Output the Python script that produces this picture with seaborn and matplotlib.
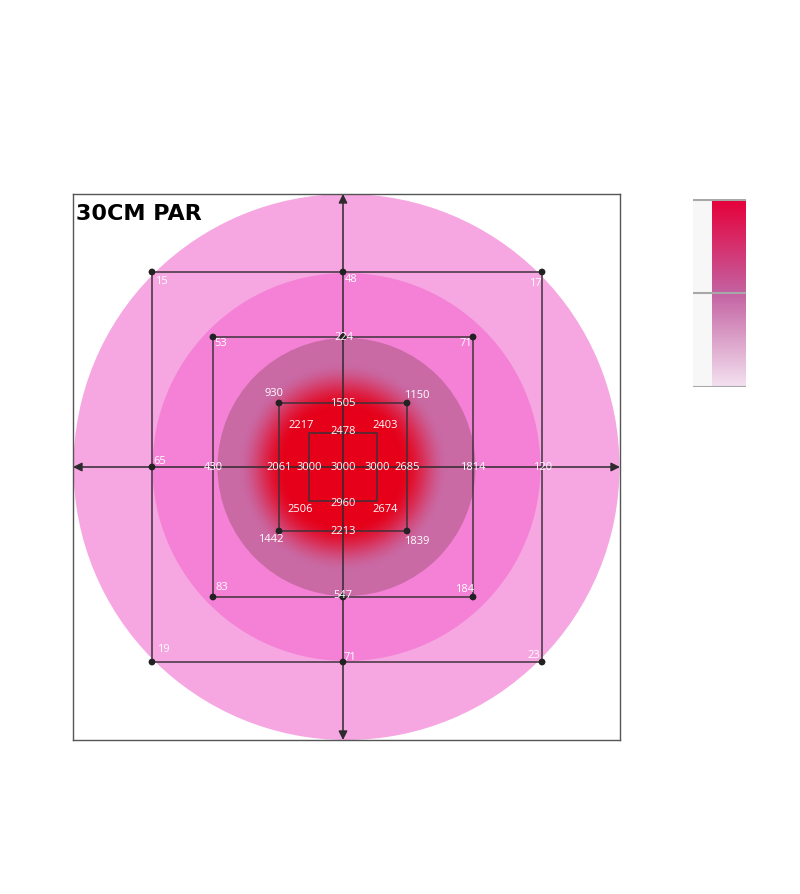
import numpy as np
import pandas as pd
import matplotlib
matplotlib.use("Agg")
import matplotlib.pyplot as plt
import seaborn as sns
from matplotlib.patches import Circle, Rectangle
from matplotlib.colors import LinearSegmentedColormap

# PAR readings at 30cm, one list per square ring
# order: top-left, top, top-right, right, bottom-right, bottom, bottom-left, left
outer_ring = [15, 48, 17, 120, 23, 71, 19, 65]
middle_ring = [53, 224, 71, 1814, 184, 547, 83, 430]
inner_ring = [930, 1505, 1150, 2685, 1839, 2213, 1442, 2061]
core_ring = [2217, 2478, 2403, 3000, 2674, 2960, 2506, 3000]
center_value = 3000
title = "30CM PAR"

sns.set_style("white")
plt.rcParams['font.family'] = ['Open Sans', 'DejaVu Sans']

# ring geometry (pixels from centre: x shift, half size) and label nudges (dx, dy up)
directions = [(-1, 1), (0, 1), (1, 1), (1, 0), (1, -1), (0, -1), (-1, -1), (-1, 0)]
rings = [
    (outer_ring, 4, 195, [(9, -9), (8, -8), (-7, -11), (1, 0), (-8, 6), (7, 5), (11, 12), (8, 6)],
     [0, 1, 2, 4, 5, 6, 7]),
    (middle_ring, 0, 130, [(8, -6), (1, -1), (-7, -6), (0, 0), (-8, 8), (0, 2), (9, 9), (0, 0)],
     [0, 1, 2, 4, 5, 6]),
    (inner_ring, 0, 64, [(-5, 9), (0, 0), (10, 8), (0, 0), (10, -10), (0, -1), (-8, -9), (0, 0)],
     [0, 2, 4, 6]),
    (core_ring, 0, 34, [(-8, 7), (0, 1), (8, 7), (0, 0), (8, -8), (0, -2), (-9, -9), (0, 0)],
     []),
]

fig = plt.figure(figsize=(8, 8.94), dpi=100)
ax = fig.add_axes([73 / 800, 1 - 740 / 894, 547 / 800, 546 / 894])

# coloured zones
for r, c in [(273, '#f6a6e1'), (194, '#f581d6'), (129, '#c96aa5')]:
    ax.add_patch(Circle((3.5, 0), r, color=c, lw=0, zorder=1))

# red hot spot, radial fade
g = np.linspace(-120, 120, 241)
xx, yy = np.meshgrid(g, g)
rr = np.hypot(xx, yy)
t = np.clip((rr - 58) / 48, 0, 1)
alpha = 1 - (t * t * (3 - 2 * t))
img = np.zeros((241, 241, 4))
img[..., 0] = 230 / 255
img[..., 1] = 0
img[..., 2] = 25 / 255
img[..., 3] = alpha
ax.imshow(img, extent=(-120, 120, -120, 120), origin='lower', zorder=2, interpolation='bilinear')
ax.set_xlim(-270, 277)
ax.set_ylim(-273, 273)
ax.set_aspect('auto')

# squares
lc = '#3b3038'
for _, sx, h, _, _ in rings:
    ax.add_patch(Rectangle((sx - h, -h), 2 * h, 2 * h, fill=False, ec=lc, lw=1.2, alpha=0.9, zorder=3))

# cross axes with arrow heads
for end in [(-270, 0), (277, 0), (0, 273), (0, -273)]:
    ax.annotate('', xy=end, xytext=(0, 0),
                arrowprops=dict(arrowstyle='-|>', color='#2e2a2d', lw=1.1,
                                mutation_scale=13, shrinkA=0, shrinkB=0), zorder=4)

# dots and labels
dots = []
for vals, sx, h, offs, dot_idx in rings:
    for i, (v, (dx, dy), (ox, oy)) in enumerate(zip(vals, directions, offs)):
        px, py = dx * h + (sx if dx else 0), dy * h
        if i in dot_idx:
            dots.append((px, py))
        ax.text(px + ox, py + oy, str(v), ha='center', va='center', color='white',
                fontsize=8, zorder=6)
ax.text(0, 0, str(center_value), ha='center', va='center', color='white', fontsize=8, zorder=6)

dots_df = pd.DataFrame(dots, columns=['x', 'y'])
sns.scatterplot(data=dots_df, x='x', y='y', color='#222222', s=24, edgecolor='none',
                ax=ax, zorder=5, legend=False)

ax.text(-267, 263, title, ha='left', va='top', fontsize=16, fontweight='bold',
        family=['DejaVu Sans'], color='black', zorder=7)

ax.set_xlabel('')
ax.set_ylabel('')
ax.set_xticks([])
ax.set_yticks([])
for s in ax.spines.values():
    s.set_color('#555555')
    s.set_linewidth(1)
    s.set_visible(True)

# legend bar on the right
cax = fig.add_axes([693 / 800, 1 - 387 / 894, 53 / 800, 188 / 894])
cax.set_xlim(0, 53)
cax.set_ylim(0, 188)
cax.add_patch(Rectangle((0, 0), 19, 188, color='#f7f7f7', lw=0))
cmap = LinearSegmentedColormap.from_list('par', ['#f3e1f0', '#c462a2', '#e6003a'])
grad = np.linspace(0, 1, 200).reshape(-1, 1)
cax.imshow(grad, cmap=cmap, extent=(19, 53, 0, 188), origin='lower', aspect='auto')
for y in [0.5, 94, 187.5]:
    cax.plot([0, 53], [y, y], color='#a8a8a8', lw=1.5)
cax.set_xlim(0, 53)
cax.set_ylim(0, 188)
cax.axis('off')

fig.savefig('out.png', dpi=100)
